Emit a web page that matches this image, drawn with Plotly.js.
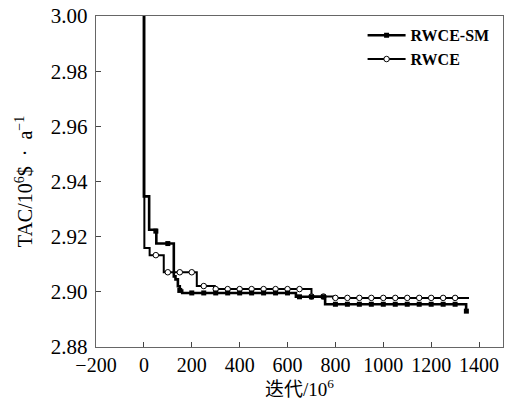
<!DOCTYPE html>
<html>
<head>
<meta charset="utf-8">
<script src="https://cdn.plot.ly/plotly-3.0.1.min.js"></script>
<style>html,body{margin:0;padding:0;background:#fff;}#chart{width:522px;height:402px;}</style>
</head>
<body>
<div id="chart"></div>
<script>
// RWCE-SM step line (x where value changes, new value)
var smStepX = [0, 0, 22, 52, 125, 132, 142, 150, 160, 635, 757, 1346, 1347];
var smStepY = [3.00, 2.9346, 2.9225, 2.9175, 2.9056, 2.9045, 2.9020, 2.9005, 2.8996, 2.8982, 2.8955, 2.8930, 2.8930];
// RWCE-SM markers
var smMarkX = [50, 100, 150, 200, 250, 300, 350, 400, 450, 500, 550, 600, 650, 700, 750, 800, 850, 900, 950, 1000, 1050, 1100, 1150, 1200, 1250, 1300, 1347];
var smMarkY = [2.9220, 2.9175, 2.9005, 2.8996, 2.8996, 2.8996, 2.8996, 2.8996, 2.8996, 2.8996, 2.8996, 2.8996, 2.8982, 2.8982, 2.8982, 2.8955, 2.8955, 2.8955, 2.8955, 2.8955, 2.8955, 2.8955, 2.8955, 2.8955, 2.8955, 2.8955, 2.8930];
// RWCE step line
var rwStepX = [0, 2, 24, 83, 221, 296, 700, 790, 1358];
var rwStepY = [3.00, 2.9159, 2.9133, 2.9071, 2.9021, 2.9010, 2.8983, 2.8978, 2.8978];
// RWCE markers
var rwMarkX = [50, 100, 150, 200, 250, 300, 350, 400, 450, 500, 550, 600, 650, 700, 750, 800, 850, 900, 950, 1000, 1050, 1100, 1150, 1200, 1250, 1300];
var rwMarkY = [2.9133, 2.9071, 2.9071, 2.9071, 2.9021, 2.9010, 2.9010, 2.9010, 2.9010, 2.9010, 2.9010, 2.9010, 2.9010, 2.8983, 2.8983, 2.8978, 2.8978, 2.8978, 2.8978, 2.8978, 2.8978, 2.8978, 2.8978, 2.8978, 2.8978, 2.8978];
var seriesNames = ['RWCE-SM', 'RWCE'];

var serif = 'Liberation Serif';
var serifCJK = 'Liberation Serif, Noto Sans CJK SC';

var traces = [
  {x: rwStepX, y: rwStepY, mode: 'lines', line: {shape: 'hv', color: '#000', width: 2}, showlegend: false, hoverinfo: 'skip'},
  {x: rwMarkX, y: rwMarkY, mode: 'markers', marker: {symbol: 'circle', size: 5.5, color: '#fff', line: {color: '#000', width: 1}}, showlegend: false},
  {x: smStepX, y: smStepY, mode: 'lines', line: {shape: 'hv', color: '#000', width: 2.6}, showlegend: false, hoverinfo: 'skip'},
  {x: smMarkX, y: smMarkY, mode: 'markers', marker: {symbol: 'square', size: 5, color: '#000'}, showlegend: false},
  {x: [null], y: [null], name: seriesNames[0], mode: 'lines+markers', line: {color: '#000', width: 2.6}, marker: {symbol: 'square', size: 5, color: '#000'}},
  {x: [null], y: [null], name: seriesNames[1], mode: 'lines+markers', line: {color: '#000', width: 2}, marker: {symbol: 'circle', size: 5.5, color: '#fff', line: {color: '#000', width: 1}}}
];

var layout = {
  width: 522, height: 402,
  margin: {l: 96, r: 19, t: 16, b: 55},
  paper_bgcolor: '#fff', plot_bgcolor: '#fff',
  font: {family: serif, color: '#000', size: 19},
  showlegend: true,
  legend: {x: 0.655, y: 0.993, xanchor: 'left', yanchor: 'top', bgcolor: 'rgba(0,0,0,0)', font: {size: 16, family: serif, weight: 'bold'}, tracegroupgap: 0, itemwidth: 38},
  xaxis: {
    range: [-200, 1500], dtick: 200, tick0: 0,
    showgrid: false, zeroline: false,
    showline: true, mirror: true, linecolor: '#666', linewidth: 1.2,
    ticks: 'inside', ticklen: 5, tickcolor: '#444', tickwidth: 1,
    tickfont: {size: 20, family: serif}, ticklabelstandoff: 0,
    title: {text: '迭代/10<sup>6</sup>', font: {size: 19, family: serifCJK}, standoff: 3}
  },
  yaxis: {
    range: [2.88, 3.00], dtick: 0.02, tick0: 2.88, tickformat: '.2f',
    showgrid: false, zeroline: false,
    showline: true, mirror: true, linecolor: '#666', linewidth: 1.2,
    ticks: 'inside', ticklen: 5, tickcolor: '#444', tickwidth: 1,
    tickfont: {size: 21, family: serif}, ticklabelstandoff: 3,
    title: {text: 'TAC/10<sup>6</sup>$  ·  a<sup>−1</sup>', font: {size: 20, family: serif}, standoff: 12}
  }
};

Plotly.newPlot('chart', traces, layout, {displayModeBar: false, staticPlot: true});
</script>
</body>
</html>
